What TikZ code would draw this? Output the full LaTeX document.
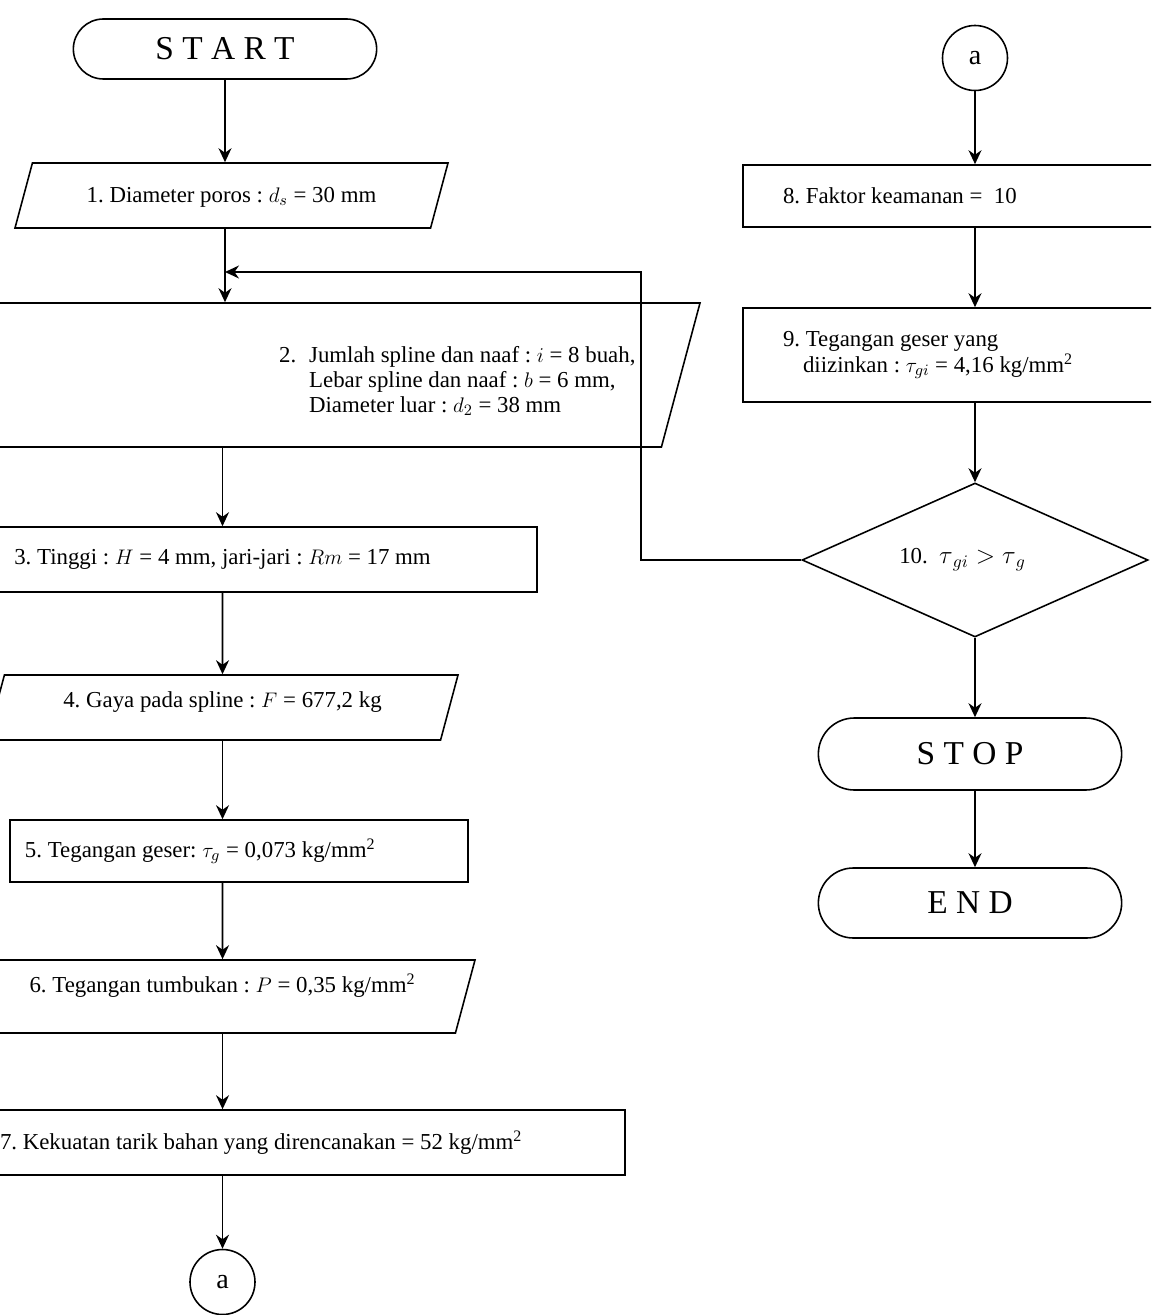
\documentclass[tikz,border=0pt]{standalone}
\usepackage{fontspec}
\setmainfont{Liberation Serif}
\usetikzlibrary{shapes.geometric,shapes.misc,positioning,arrows.meta,calc}

\begin{document}
\frenchspacing
\begin{tikzpicture}[line width=0.9pt,
    term/.style={rounded rectangle, draw, minimum width=6.3cm, minimum height=1.2cm,
                font=\fontsize{19}{22}\selectfont},
    io/.style={trapezium, trapezium left angle=75, trapezium right angle=105,
                trapezium stretches body, draw, inner ysep=0pt,
                font=\fontsize{13}{15}\selectfont},
    proc/.style={rectangle, draw, minimum height=1.3cm, font=\fontsize{13}{15}\selectfont},
    decide/.style={diamond, draw, aspect=2.25, minimum width=6.92cm, minimum height=3.08cm,
                inner sep=0pt, font=\fontsize{13}{15}\selectfont},
    conn/.style={circle, draw, minimum size=1.3cm, inner sep=0pt,
                font=\fontsize{16}{18}\selectfont},
    flow/.style={-{Stealth[length=2.8mm,width=2.6mm]}}]

    \useasboundingbox (0,0) rectangle (23.02,-26.3);
    \clip (0,0) rectangle (23.02,-26.3);

    \node [term] (start) at (4.5,-0.98) {S T A R T};
    \node [io, minimum width=8.66cm, text height=0.79cm, text depth=0.51cm] (p1) at (4.63,-3.91)
        {1. Diameter poros : $d_s$ = 30 mm};
    \node [io, minimum width=15.6cm, text height=1.44cm, text depth=1.44cm] (p2) at (6.2,-7.5) {};
    \node [anchor=west, align=flush left, font=\fontsize{13}{14}\selectfont] (t2) at (5.45,-7.62) {
        \makebox[0.6cm][l]{2.}Jumlah spline dan naaf : $i$ = 8 buah,\\
        \hspace*{0.6cm}Lebar spline dan naaf : $b$ = 6 mm,\\
        \hspace*{0.6cm}Diameter luar : $d_2$ = 38 mm};
    \node [proc, minimum width=12.58cm] (p3) at (4.45,-11.19)
        {3. Tinggi : $H$ = 4 mm, jari-jari : $Rm$ = 17 mm};
    \node [io, minimum width=9.42cm, text height=0.64cm, text depth=0.66cm] (p4) at (4.45,-14.15)
        {4. Gaya pada spline : $F$ = 677,2 kg};
    \node [proc, minimum height=1.24cm, text width=8.56cm, inner xsep=0.3cm, align=flush left] (p5)
        at (4.78,-17.02) {5. Tegangan geser: $\tau_g$ = 0,073 kg/mm\textsuperscript{2}};
    \node [io, minimum width=10.1cm, text height=0.65cm, text depth=0.81cm] (p6) at (4.45,-19.93)
        {6. Tegangan tumbukan : $P$ = 0,35 kg/mm\textsuperscript{2}};
    \node [proc, text width=12.1cm, inner xsep=0.4cm, align=flush left] (p7) at (6.05,-22.85)
        {7. Kekuatan tarik bahan yang direncanakan = 52 kg/mm\textsuperscript{2}};
    \node [conn] (a1) at (4.45,-25.64) {a};

    \node [conn] (a2) at (19.5,-1.16) {a};
    \node [proc, minimum height=1.24cm, text width=7.68cm, inner xsep=0.8cm, align=flush left] (p8)
        at (19.5,-3.92) {8. Faktor keamanan = \ 10};
    \node [proc, minimum height=1.88cm, text width=7.68cm, inner xsep=0.8cm, align=flush left] (p9)
        at (19.5,-7.1) {9. Tegangan geser yang\\
        \hspace*{0.4cm}diizinkan : $\tau_{gi}$ = 4,16 kg/mm\textsuperscript{2}};
    \node [decide] (d10) at (19.5,-11.2) {10.\ \ {\Large $\tau_{\,gi} > \tau_{\,g}$}\hspace*{0.5cm}};
    \node [term, minimum height=1.44cm] (stop) at (19.4,-15.08) {S T O P};
    \node [term, minimum height=1.4cm] (finish) at (19.4,-18.06) {E N D};

    \coordinate (m) at (4.5,-5.44);

    \draw [flow] (start.south) -- (start.south |- p1.north);
    \draw [flow] (start.south |- p1.south) -- (start.south |- p2.north);
    \draw [flow] (p3.north |- p2.south) -- (p3.north);
    \draw [flow] (p3) -- (p4);
    \draw [flow] (p4.south) -- (p4.south |- p5.north);
    \draw [flow] (p4.south |- p5.south) -- (p6.north);
    \draw [flow] (p6.south) -- (p6.south |- p7.north);
    \draw [flow] (a1.north |- p7.south) -- (a1);

    \draw [flow] (a2) -- (p8);
    \draw [flow] (p8) -- (p9);
    \draw [flow] (p9) -- (d10);
    \draw [flow] (d10.south) -- (d10.south |- stop.north);
    \draw [flow] (d10.south |- stop.south) -- (d10.south |- finish.north);
    \draw [flow] (d10.west) -- ++(-3.2,0) |- (m);
\end{tikzpicture}
\end{document}
